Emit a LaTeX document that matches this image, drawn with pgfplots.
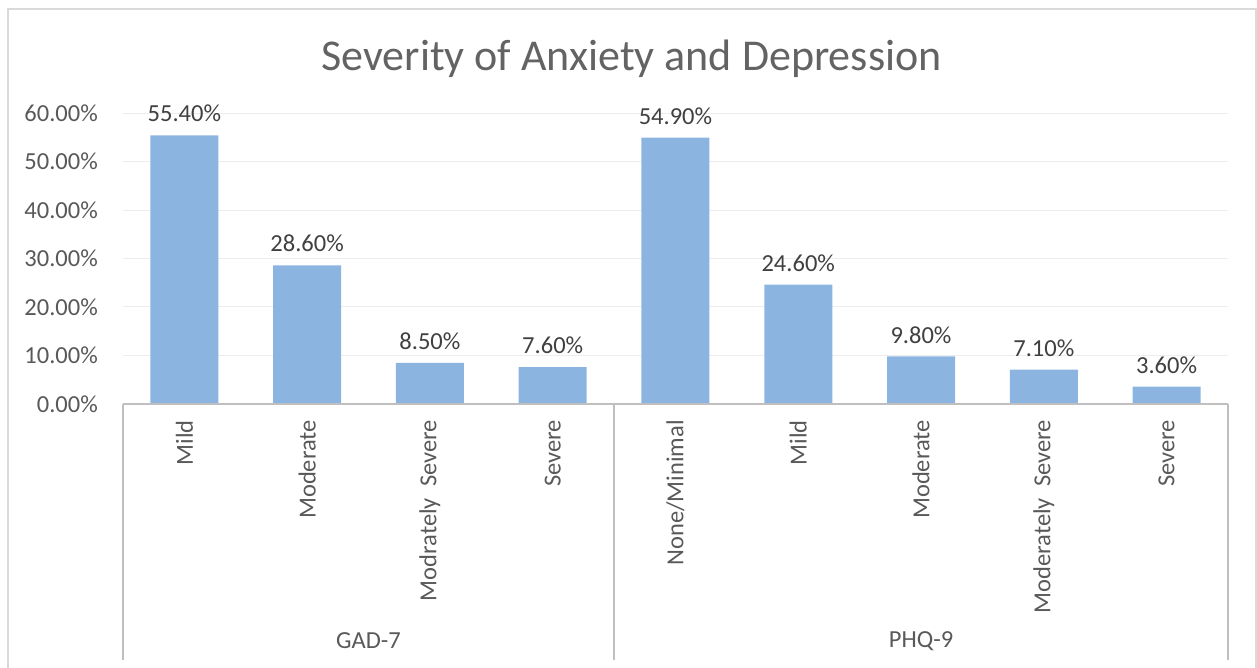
\documentclass[border=0pt]{standalone}
\usepackage{fontspec}
\setmainfont{Carlito}
\usepackage{pgfplots}
\pgfplotsset{compat=1.18}
\definecolor{barblue}{HTML}{8BB5E0}
\definecolor{txtgray}{HTML}{595959}
\definecolor{titlegray}{HTML}{636363}
\definecolor{lblgray}{HTML}{404040}
\definecolor{linegray}{HTML}{BFBFBF}
\definecolor{gridgray}{HTML}{EDEDED}
\definecolor{framegray}{HTML}{D9D9D9}
\begin{document}
\begin{tikzpicture}[x=1pt,y=1pt]
\useasboundingbox (0,0) rectangle (1257,668);
\draw[framegray,line width=2pt] (8,-5) -- (8,659) -- (1256,659) -- (1256,-5);
\node[text=titlegray,font=\fontsize{44}{52}\selectfont] at (631.5,609) {Severity of Anxiety and Depression};
\begin{axis}[
  at={(123pt,264pt)}, anchor=south west,
  scale only axis, width=1105pt, height=291pt,
  xmin=-0.5, xmax=8.5, ymin=0, ymax=60,
  ybar, bar width=68pt,
  axis line style={draw=none},
  major tick length=0pt,
  ytick={0,10,...,60},
  ymajorgrids, grid style={gridgray, line width=1pt},
  xtick={0,...,8},
  xticklabels={Mild, Moderate, Modrately\ \ Severe, Severe, None/Minimal, Mild, Moderate, Moderately\ \ Severe, Severe},
  xticklabel style={rotate=90, anchor=east, inner sep=0pt},
  xticklabel shift=16pt,
  yticklabel style={anchor=east, inner sep=0pt},
  yticklabel shift=25pt,
  ticklabel style={font=\fontsize{24.5}{28}\selectfont, text=txtgray},
  /pgf/number format/assume math mode=true,
  yticklabel={\pgfmathprintnumber[fixed,fixed zerofill,precision=2]{\tick}\%},
  nodes near coords={\pgfmathprintnumber[fixed,fixed zerofill,precision=2]{\pgfplotspointmeta}\%},
  nodes near coords style={font=\fontsize{24.5}{28}\selectfont, text=lblgray, anchor=south, inner sep=0pt, yshift=13pt},
  clip=false,
]
\addplot[fill=barblue, draw=none] coordinates {(0,55.4) (1,28.6) (2,8.5) (3,7.6) (4,54.9) (5,24.6) (6,9.8) (7,7.1) (8,3.6)};
\draw[linegray, line width=1.5pt] (axis cs:-0.5,0) -- (axis cs:8.5,0);
\draw[linegray, line width=1.5pt] (axis cs:-0.5,0) -- ([yshift=-256pt]axis cs:-0.5,0);
\draw[linegray, line width=1.5pt] (axis cs:3.5,0) -- ([yshift=-256pt]axis cs:3.5,0);
\draw[linegray, line width=1.5pt] (axis cs:8.5,0) -- ([yshift=-256pt]axis cs:8.5,0);
\node[text=txtgray, font=\fontsize{24.5}{28}\selectfont] at (axis cs:1.5,0) [yshift=-237pt] {GAD-7};
\node[text=txtgray, font=\fontsize{24.5}{28}\selectfont] at (axis cs:6,0) [yshift=-237pt] {PHQ-9};
\end{axis}
\end{tikzpicture}
\end{document}
